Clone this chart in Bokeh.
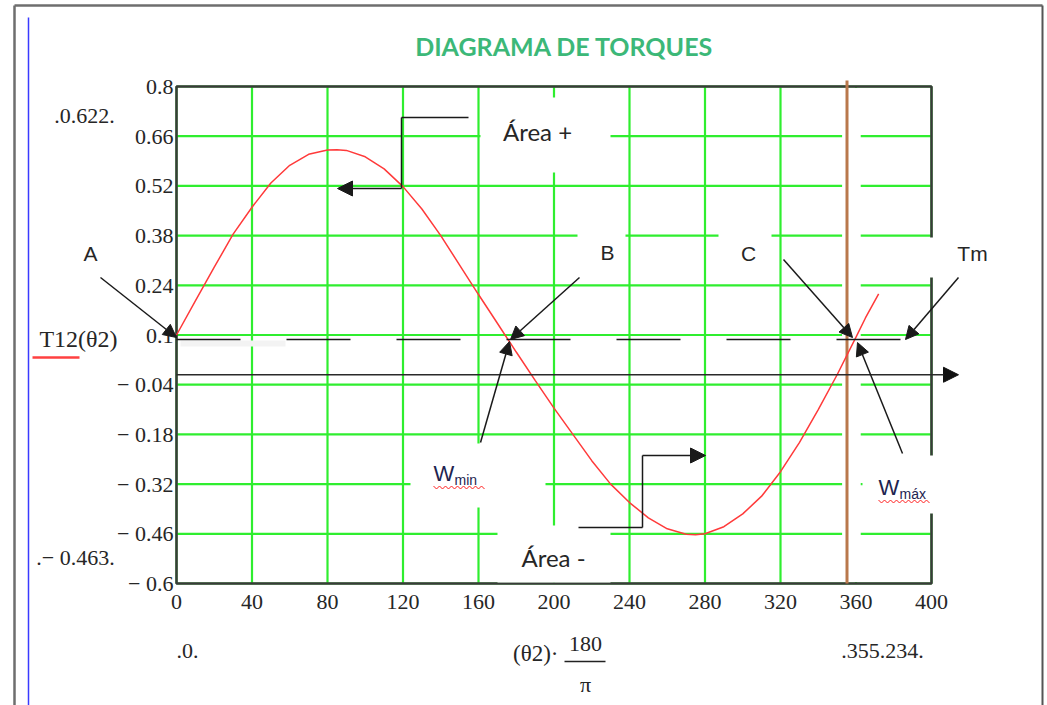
from bokeh.plotting import figure
from bokeh.models import (Range1d, FixedTicker, CustomJSTickFormatter, Label,
                          Arrow, NormalHead)
from bokeh.embed import file_html
from bokeh.resources import INLINE

# Torque T12 as a function of crank angle (degrees)
theta_deg = [0, 10, 20, 30, 40, 50, 60, 70, 80, 85, 90, 100, 110, 120, 130, 140, 150,
             160, 170, 180, 190, 200, 210, 220, 230, 240, 250, 260, 270, 275, 280, 290,
             300, 310, 320, 330, 340, 350, 360, 365, 372]
torque = [0.100, 0.196, 0.291, 0.384, 0.460, 0.528, 0.578, 0.609, 0.621, 0.622, 0.620,
          0.602, 0.568, 0.518, 0.455, 0.380, 0.297, 0.214, 0.133, 0.052, -0.028, -0.106,
          -0.180, -0.254, -0.320, -0.372, -0.415, -0.446, -0.461, -0.463, -0.460, -0.440,
          -0.404, -0.354, -0.285, -0.203, -0.110, -0.012, 0.094, 0.148, 0.216]

x_ticks = [0, 40, 80, 120, 160, 200, 240, 280, 320, 360, 400]
y_ticks = [0.8, 0.66, 0.52, 0.38, 0.24, 0.1, -0.04, -0.18, -0.32, -0.46, -0.6]

t_max, t_min = 0.622, -0.463          # horizontal markers
theta_lo, theta_hi = 0.0, 355.234     # vertical markers
tm = 0.087                            # mean torque Tm
theta_axis_y = -0.012                 # drawn theta axis

W, H = 1047, 705
FL, FR, FT, FB = 176, 931, 86, 583    # plot box in canvas pixels
X0, X1, Y0, Y1 = 0, 400, -0.6, 0.8    # plot box in data units

kx = (FR - FL) / (X1 - X0)
ky = (FB - FT) / (Y1 - Y0)
x_range = Range1d(X0 - FL / kx, X0 + (W - FL) / kx)
y_range = Range1d(Y1 - (H - FT) / ky, Y1 + FT / ky)


def dx(sx):
    return X0 + (sx - FL) / kx


def dy(sy):
    return Y1 - (sy - FT) / ky


p = figure(width=W, height=H, x_range=x_range, y_range=y_range,
           output_backend="svg", toolbar_location=None, min_border=0)
p.title.visible = False
p.background_fill_color = "white"
p.border_fill_color = "white"
p.outline_line_color = None
p.xgrid.visible = False
p.ygrid.visible = False

SERIF = "Liberation Serif"
SANS = "Liberation Sans"
TXT = "#262626"
INK = "#1e2450"

# axes pinned to the plot box
for ax in (p.xaxis[0], p.yaxis[0]):
    ax.axis_line_color = None
    ax.major_tick_line_color = None
    ax.minor_tick_line_color = None
    ax.major_tick_in = 0
    ax.major_tick_out = 0
    ax.major_label_text_font = SERIF
    ax.major_label_text_font_size = "22px"
    ax.major_label_text_color = TXT
p.xaxis.fixed_location = Y0
p.yaxis.fixed_location = X0
p.xaxis.bounds = (X0, X1)
p.yaxis.bounds = (Y0, Y1)
p.xaxis.ticker = FixedTicker(ticks=x_ticks)
p.yaxis.ticker = FixedTicker(ticks=y_ticks)
p.yaxis.formatter = CustomJSTickFormatter(code="""
    const s = String(parseFloat(Math.abs(tick).toFixed(2)));
    return tick < -1e-9 ? "\\u2212 " + s : s;
""")
p.xaxis.major_label_standoff = 11
p.yaxis.major_label_standoff = 3

# grid lines at the tick positions
GREEN = "#2fee2f"
p.segment(x0=x_ticks, y0=[Y0] * len(x_ticks), x1=x_ticks, y1=[Y1] * len(x_ticks),
          line_color=GREEN, line_width=2.2)
p.segment(x0=[X0] * len(y_ticks), y0=y_ticks, x1=[X1] * len(y_ticks), y1=y_ticks,
          line_color=GREEN, line_width=2.2)

# plot box
p.quad(left=X0, right=X1, bottom=Y0, top=Y1, fill_color=None,
       line_color="#3a3a3a", line_width=2.5)

# white text-box backgrounds over the grid
boxes = [(480, 610, 97, 172), (577, 625, 228, 268), (718, 771, 228, 270),
         (410, 545, 443, 507), (497, 610, 525, 582), (862, 935, 455, 513),
         (925, 1000, 237, 277)]
p.quad(left=[dx(b[0]) for b in boxes], right=[dx(b[1]) for b in boxes],
       top=[dy(b[2]) for b in boxes], bottom=[dy(b[3]) for b in boxes],
       fill_color="white", line_color=None)
p.quad(left=dx(180), right=dx(285), top=dy(340), bottom=dy(346),
       fill_color="#f3f3f3", line_color=None)

# vertical marker at theta_hi with white halo
p.quad(left=theta_hi - 2.6, right=362.5, bottom=Y0 + 0.004, top=Y1 - 0.004,
       fill_color="white", line_color=None)
p.segment(x0=[theta_hi], y0=[dy(80)], x1=[theta_hi], y1=[Y0],
          line_color="#b9784c", line_width=3)

# torque curve
p.line(theta_deg, torque, line_color="#ff3a3a", line_width=1.5)

# mean torque line
p.line([X0, X1], [tm, tm], line_color="#1a1a1a", line_width=1.5, line_dash="64 46")


def seg(x0, y0, x1, y1, head=False, color="#1a1a1a", width=1.5, size=13):
    p.add_layout(Arrow(x_start=dx(x0), y_start=dy(y0), x_end=dx(x1), y_end=dy(y1),
                       line_color=color, line_width=width,
                       end=NormalHead(size=size, fill_color=color, line_color=color)
                       if head else None))


# drawn theta axis with arrow
p.add_layout(Arrow(x_start=X0, y_start=theta_axis_y, x_end=dx(958), y_end=theta_axis_y,
                   line_color="#2a2a2a", line_width=1.6,
                   end=NormalHead(size=15, fill_color="#111111", line_color="#111111")))

# area connectors
seg(468, 117, 401, 117)
seg(401, 117, 401, 188)
seg(401, 188, 337, 188, head=True, size=15)
seg(578, 527, 642, 527)
seg(642, 527, 642, 455)
seg(642, 455, 705, 455, head=True, size=15)

# point arrows
seg(100, 277, 176, 337, head=True)
seg(579, 277, 510, 339, head=True)
seg(480, 442, 509, 341, head=True)
seg(783, 259, 852, 337, head=True)
seg(958, 277, 905, 339, head=True)
seg(902, 453, 857, 342, head=True)

# frame of the worksheet region
seg(14, 5, 14, 705, color="#6e6e6e", width=2.5)
seg(14, 5, 1042, 5, color="#6e6e6e", width=2.5)
seg(1042, 5, 1042, 705, color="#555555", width=2)
seg(28, 17, 28, 705, color="#3a3aff", width=1.5)


def txt(sx, sy, s, size=21, font=SANS, color=TXT, align="center", style="normal"):
    p.add_layout(Label(x=dx(sx), y=dy(sy), text=s, text_font=font,
                       text_font_size=f"{size}px", text_color=color, text_align=align,
                       text_baseline="middle", text_font_style=style))


def squiggle(x_a, x_b, sy):
    xs = list(range(x_a, x_b + 1, 3))
    p.line([dx(v) for v in xs], [dy(sy + (1.5 if i % 2 else -1.5)) for i, _ in enumerate(xs)],
           line_color="#ff2020", line_width=1)


txt(564, 45, "DIAGRAMA DE TORQUES", size=25, font="Lato", color="#3cb878", style="bold")
txt(537, 131, "Área +", size=24, font="Lato")
txt(553, 557, "Área -", size=24, font="Lato")
txt(90, 253, "A")
txt(607, 252, "B")
txt(748, 253, "C")
txt(972, 253, "Tm")
txt(433, 473, "W", size=22, align="left", color=INK)
txt(454, 479, "min", size=14, align="left", color=INK)
squiggle(433, 484, 487)
txt(878, 487, "W", size=22, align="left", color=INK)
txt(899, 493, "máx", size=14, align="left", color=INK)
squiggle(878, 930, 501)

# marker readouts and axis labels
txt(84, 115, ".0.622.", size=22, font=SERIF)
txt(75, 557, ".\u2212 0.463.", size=22, font=SERIF)
txt(187, 650, ".0.", size=22, font=SERIF)
txt(882, 650, ".355.234.", size=22, font=SERIF)
txt(78, 338, "T12(\u03b82)", size=24, font=SERIF)
seg(32, 357, 79, 357, color="#ff4040", width=2.5)
txt(558, 653, "(\u03b82)\u00b7", size=23, font=SERIF, align="right")
txt(585, 643, "180", size=22, font=SERIF)
seg(564, 661, 605, 661, color="#222222", width=1.5)
txt(585, 684, "\u03c0", size=22, font=SERIF)

open("out.html", "w").write(file_html(p, INLINE))
